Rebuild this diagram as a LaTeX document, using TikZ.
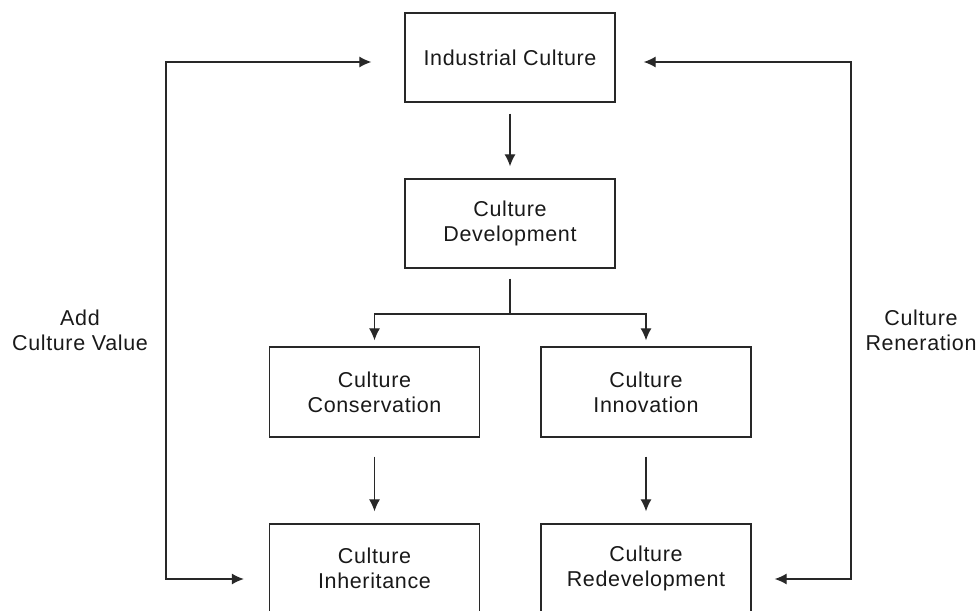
\documentclass[tikz,border=0pt]{standalone}
\usepackage{fontspec}
\setmainfont{Liberation Sans}[LetterSpace=3]
\usetikzlibrary{arrows.meta,positioning}
\definecolor{linegray}{RGB}{40,40,40}
\definecolor{textgray}{RGB}{25,25,25}

\tikzset{
  box/.style={rectangle, draw=linegray, line width=1.3pt, align=center,
              minimum width=210pt, minimum height=89pt, text=textgray},
  arr/.style={-{Latex[length=12pt,width=11pt]}, line width=1.2pt, linegray},
  biarr/.style={{Latex[length=12pt,width=11pt]}-{Latex[length=12pt,width=11pt]}, line width=1.2pt, linegray},
  sidelabel/.style={align=center, text=textgray}
}

\begin{document}
\begin{tikzpicture}[x=1pt, y=-1pt, font=\fontsize{21.5}{25}\selectfont]
    \useasboundingbox (0,0) rectangle (979,610);
    % boxes
    \node[box] (ind)   at (510,57.5)  {Industrial Culture};
    \node[box] (dev)   at (510,223.5) {Culture\\Development};
    \node[box, minimum height=90pt] (cons)  at (374.5,392) {Culture\\Conservation};
    \node[box, minimum height=90pt] (innov) at (646,392)   {Culture\\Innovation};
    \node[box, minimum height=88pt] (inher) at (374.5,568) {Culture\\Inheritance};
    \node[box, minimum height=88pt] (redev) at (646,568)   {Culture\\Redevelopment};
    % side labels
    \node[sidelabel] (addval) at (80,330)  {Add\\Culture Value};
    \node[sidelabel] (regen)  at (921,330) {Culture\\Reneration};
    % main flow
    \draw[arr, shorten <=11pt, shorten >=12pt] (ind) -- (dev);
    \coordinate (split) at (510,314);
    \draw[line width=1.2pt, linegray, shorten <=10pt] (dev.south) -- (split);
    \draw[arr, shorten >=6pt] (split) -| (cons.north);
    \draw[arr, shorten >=6pt] (split) -| (innov.north);
    \draw[arr, shorten <=19pt, shorten >=12pt] (cons) -- (inher);
    \draw[arr, shorten <=19pt, shorten >=12pt] (innov) -- (redev);
    % feedback loops
    \coordinate (ltop) at (166,62);
    \coordinate (lbot) at (166,579);
    \coordinate (rtop) at (851,62);
    \coordinate (rbot) at (851,579);
    \draw[biarr, shorten <=25pt, shorten >=33pt] (inher.west |- lbot) -- (lbot) -- (ltop) -- (ind.west |- ltop);
    \draw[biarr, shorten <=23pt, shorten >=28pt] (redev.east |- rbot) -- (rbot) -- (rtop) -- (ind.east |- rtop);
\end{tikzpicture}
\end{document}
